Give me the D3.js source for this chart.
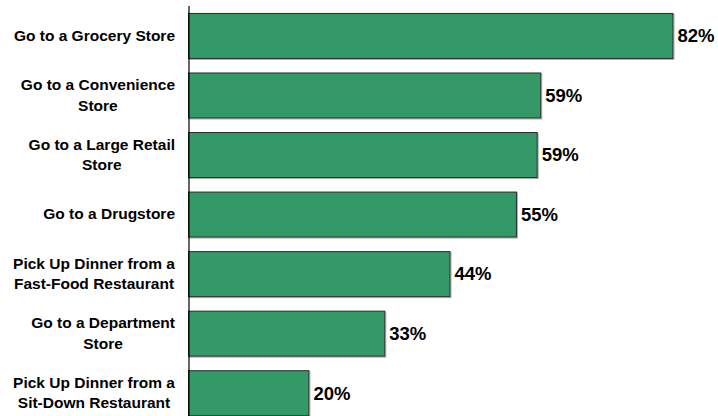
<!DOCTYPE html>
<html>
<head>
<meta charset="utf-8">
<script src="https://cdn.jsdelivr.net/npm/d3@7/dist/d3.min.js"></script>
<style>
  html, body { margin: 0; padding: 0; background: #fff; }
  svg { display: block; }
  text { font-family: "Liberation Sans", Arial, Helvetica, sans-serif; font-weight: bold; fill: #000; }
</style>
</head>
<body>
<svg id="chart" width="718" height="416"></svg>
<script>
// ---- data ----
const categories = [
  "Go to a Grocery Store",
  "Go to a Convenience\nStore",
  "Go to a Large Retail\nStore",
  "Go to a Drugstore",
  "Pick Up Dinner from a\nFast-Food Restaurant",
  "Go to a Department\nStore",
  "Pick Up Dinner from a\nSit-Down Restaurant"
];
const values = [81.7, 59.4, 58.8, 55.3, 44.1, 33.1, 20.3];
const valueLabels = ["82%", "59%", "59%", "55%", "44%", "33%", "20%"];

// ---- layout ----
const svg = d3.select("#chart");
const x = d3.scaleLinear().domain([0, 90]).range([188.5, 188.5 + 90 * 5.93]);
const y = d3.scaleBand().domain(categories).range([5.5, 422.3]).paddingInner(0.25).paddingOuter(0.125);
const bh = Math.round(y.bandwidth());

// bar shadows
svg.append("g").selectAll("rect")
  .data(values)
  .join("rect")
  .attr("x", x(0) + 1)
  .attr("y", (d, i) => y(categories[i]) + 1.5)
  .attr("width", d => x(d) - x(0))
  .attr("height", bh)
  .attr("fill", "none")
  .attr("stroke", "#aaaaaa")
  .attr("stroke-width", 1);

// bars
svg.append("g").selectAll("rect")
  .data(values)
  .join("rect")
  .attr("x", x(0))
  .attr("y", (d, i) => y(categories[i]) + 0.5)
  .attr("width", d => x(d) - x(0))
  .attr("height", bh)
  .attr("fill", "#339966")
  .attr("stroke", "#2b2b2b")
  .attr("stroke-width", 1);

// axis line
const axis = d3.axisLeft(y).tickSize(0).tickSizeOuter(0).tickFormat("");
const ag = svg.append("g").attr("transform", `translate(${x(0)},0)`).call(axis);
ag.select(".domain").attr("stroke", "#000").attr("stroke-width", 1.2);

// category labels: block right-aligned, lines centred within block
const labelRight = 175;
const lineH = 20.5;
categories.forEach((c, i) => {
  const lines = c.split("\n");
  const g = svg.append("g");
  const cy = y(c) + y.bandwidth() / 2;
  const texts = lines.map((ln, j) => g.append("text")
    .attr("text-anchor", "middle")
    .attr("x", 0)
    .attr("y", cy + (j - (lines.length - 1) / 2) * lineH + 5.5)
    .style("font-size", "15.5px")
    .text(ln));
  const maxW = d3.max(texts, t => t.node().getComputedTextLength());
  g.attr("transform", `translate(${labelRight - maxW / 2},0)`);
});

// value labels
svg.append("g").selectAll("text")
  .data(values)
  .join("text")
  .attr("x", d => x(d) + 4.5)
  .attr("y", (d, i) => y(categories[i]) + y.bandwidth() / 2 + 7)
  .style("font-size", "18.5px")
  .text((d, i) => valueLabels[i]);
</script>
</body>
</html>
